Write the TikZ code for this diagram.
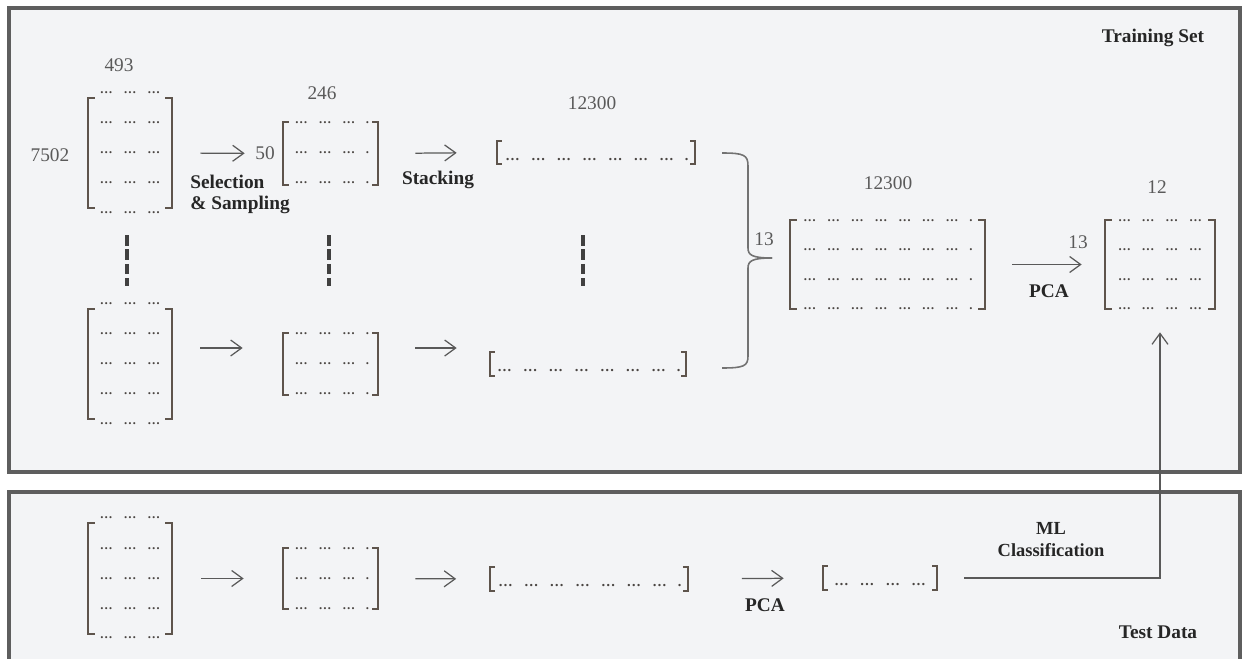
\documentclass[tikz,border=0pt]{standalone}
\usepackage{fontspec}
\setmainfont{Liberation Serif}
\usetikzlibrary{arrows.meta}
\definecolor{boxline}{HTML}{5E5E5E}
\definecolor{boxfill}{HTML}{F3F4F6}
\definecolor{brkc}{HTML}{5E544C}
\definecolor{dotc}{HTML}{4A4542}
\definecolor{numc}{HTML}{5A5A5A}
\definecolor{arrc}{HTML}{595959}
\newcommand\mg{…\hspace{6.2pt}}
\newcommand\vg{…\hspace{6.4pt}}
\newcommand\brackets[2]{%
 \draw[brkline] ([xshift=#2]#1.north west) -- (#1.north west) -- (#1.south west) -- ([xshift=#2]#1.south west);
 \draw[brkline] ([xshift=-#2]#1.north east) -- (#1.north east) -- (#1.south east) -- ([xshift=-#2]#1.south east);}
\tikzset{
 panel/.style={draw=boxline, line width=2pt, fill=boxfill},
 matbox/.style={inner sep=0pt, draw=none},
 brkline/.style={draw=brkc, line width=1pt},
 drow/.style={anchor=base, inner sep=0pt, text=dotc, font=\fontsize{7.3}{7}\selectfont\bfseries},
 vrow/.style={anchor=base, inner sep=0pt, text=dotc, font=\fontsize{8.2}{8}\selectfont\bfseries},
 num/.style={inner sep=0pt, text=numc, font=\fontsize{11}{12}\selectfont},
 lbl/.style={inner sep=0pt, text=black!85, font=\fontsize{11}{12}\selectfont\bfseries},
 arr/.style={draw=arrc, line width=0.7pt, -{Straight Barb[length=0.22cm, width=0.32cm, line width=0.7pt]}},
 vbar/.style={draw=black!75, line width=2.2pt, dash pattern=on 6pt off 2.2pt},
 bracecurve/.style={draw=arrc!85, line width=0.9pt},
}
\begin{document}
\begin{tikzpicture}[x=0.02cm, y=-0.02cm]
\clip (0,0) rectangle (1244,659);
\fill[white] (0,0) rectangle (1244,659);
% panels
\draw[panel] (9,8) rectangle (1240,472);
\draw[panel] (9,492) rectangle (1240,700);
\node[lbl] (train) at (1153,38) {Training Set};
\node[lbl] (test) at (1158,632) {Test Data};

% ---------- Training set, row 1 ----------
\node[matbox, minimum width=1.68cm, minimum height=2.2cm] (A1) at (130,153) {};
\brackets{A1}{0.14cm}
\foreach \r in {92,122,152,182,212} \node[drow] at (130,\r+1) {\mg\mg…};
\node[num] (n493) at (119,65) {493};
\node[num] (n7502) at (50,155) {7502};

\node[matbox, minimum width=1.9cm, minimum height=1.26cm] (B1) at (330.5,153.5) {};
\brackets{B1}{0.12cm}
\foreach \r in {122,152,182} \node[drow] at (332,\r+1) {\mg\mg\mg.};
\node[num] (n246) at (322,93) {246};
\node[num] (n50) at (265,153) {50};

\node[matbox, minimum width=3.96cm, minimum height=0.46cm] (V1) at (596,152.5) {};
\brackets{V1}{0.1cm}
\node[vrow] at (597,160) {\vg\vg\vg\vg\vg\vg\vg.};
\node[num] (n12300a) at (592,103) {12300};

\draw[arr, shorten <=0.56cm, shorten >=0.76cm] (A1.east) -- (B1.west);
\draw[arr, shorten <=0.74cm, shorten >=0.8cm] (B1.east) -- (V1.west);
\node[lbl, anchor=west] (sel) at (190,182) {Selection};
\node[lbl, anchor=west] (samp) at (190,205) {\& Sampling};
\node[lbl] (stack) at (438,180) {Stacking};

% dashed continuation bars
\draw[vbar] (127,235) -- (127,286);
\draw[vbar] (329,235) -- (329,286);
\draw[vbar] (583,235) -- (583,286);

% ---------- Training set, row 2 ----------
\node[matbox, minimum width=1.68cm, minimum height=2.2cm] (A2) at (130,364) {};
\brackets{A2}{0.14cm}
\foreach \r in {303,333,363,393,423} \node[drow] at (130,\r+1) {\mg\mg…};

\node[matbox, minimum width=1.9cm, minimum height=1.24cm] (B2) at (330.5,364) {};
\brackets{B2}{0.12cm}
\foreach \r in {333,363,393} \node[drow] at (332,\r+1) {\mg\mg\mg.};

\node[matbox, minimum width=3.92cm, minimum height=0.46cm] (V2) at (588,364) {};
\brackets{V2}{0.1cm}
\node[vrow] at (589,371) {\vg\vg\vg\vg\vg\vg\vg.};

\coordinate (r2a) at ([yshift=0.32cm]A2.east);
\coordinate (r2b) at ([yshift=0.32cm]B2.east);
\draw[arr, shorten <=0.56cm, shorten >=0.8cm] (r2a) -- (r2a -| B2.west);
\draw[arr, shorten <=0.74cm, shorten >=0.66cm] (r2b) -- (r2b -| V2.west);

% brace
\draw[bracecurve] (722,153) .. controls (744,153) and (748,155) .. (748,166)
  -- (748,248) .. controls (748,255) and (752,258) .. (772,258);
\draw[bracecurve] (772,258) .. controls (752,258) and (748,261) .. (748,268)
  -- (748,356) .. controls (748,366) and (744,368) .. (722,368);
\node[num] (n13a) at (764,239) {13};

% ---------- stacked matrix and PCA result ----------
\node[matbox, minimum width=3.9cm, minimum height=1.78cm] (C) at (887.5,264.5) {};
\brackets{C}{0.14cm}
\foreach \r in {220,249,279,308} \node[drow] at (888,\r+1) {\mg\mg\mg\mg\mg\mg\mg.};
\node[num] (n12300b) at (888,183) {12300};

\node[matbox, minimum width=2.2cm, minimum height=1.78cm] (D) at (1160,264.5) {};
\brackets{D}{0.14cm}
\foreach \r in {220,249,279,308} \node[drow] at (1160,\r+1) {\mg\mg\mg…};
\node[num] (n12) at (1157,187) {12};
\node[num] (n13b) at (1078,242) {13};

\draw[arr, shorten <=0.54cm, shorten >=0.46cm] (C.east) -- (D.west);
\node[lbl] (pca1) at (1049,291) {PCA};

% ---------- Test data ----------
\node[matbox, minimum width=1.68cm, minimum height=2.22cm] (A3) at (130,578.5) {};
\brackets{A3}{0.14cm}
\foreach \r in {517,548,578,608,637} \node[drow] at (130,\r+1) {\mg\mg…};

\node[matbox, minimum width=1.9cm, minimum height=1.22cm] (B3) at (330.5,578.5) {};
\brackets{B3}{0.12cm}
\foreach \r in {548,578,608} \node[drow] at (332,\r+1) {\mg\mg\mg.};

\node[matbox, minimum width=3.94cm, minimum height=0.46cm] (V3) at (589,579) {};
\brackets{V3}{0.1cm}
\node[vrow] at (590,586) {\vg\vg\vg\vg\vg\vg\vg.};

\node[matbox, minimum width=2.28cm, minimum height=0.46cm] (V4) at (880,578) {};
\brackets{V4}{0.1cm}
\node[vrow] at (880,585) {\vg\vg\vg…};

\draw[arr, shorten <=0.58cm, shorten >=0.78cm] (A3.east) -- (B3.west);
\draw[arr, shorten <=0.74cm, shorten >=0.68cm] (B3.east) -- (V3.west);
\draw[arr, shorten <=1.08cm, shorten >=0.78cm] (V3.east) -- (V4.west);
\node[lbl] (pca2) at (765,605) {PCA};

\draw[arr, line width=0.9pt, shorten <=0.54cm, shorten >=0.46cm] (V4.east) -| (D.south);
\node[lbl, font=\fontsize{10.5}{12}\selectfont\bfseries] (ml) at (1051,528) {ML};
\node[lbl, font=\fontsize{10.5}{12}\selectfont\bfseries] (cls) at (1051,550) {Classification};
\end{tikzpicture}
\end{document}
